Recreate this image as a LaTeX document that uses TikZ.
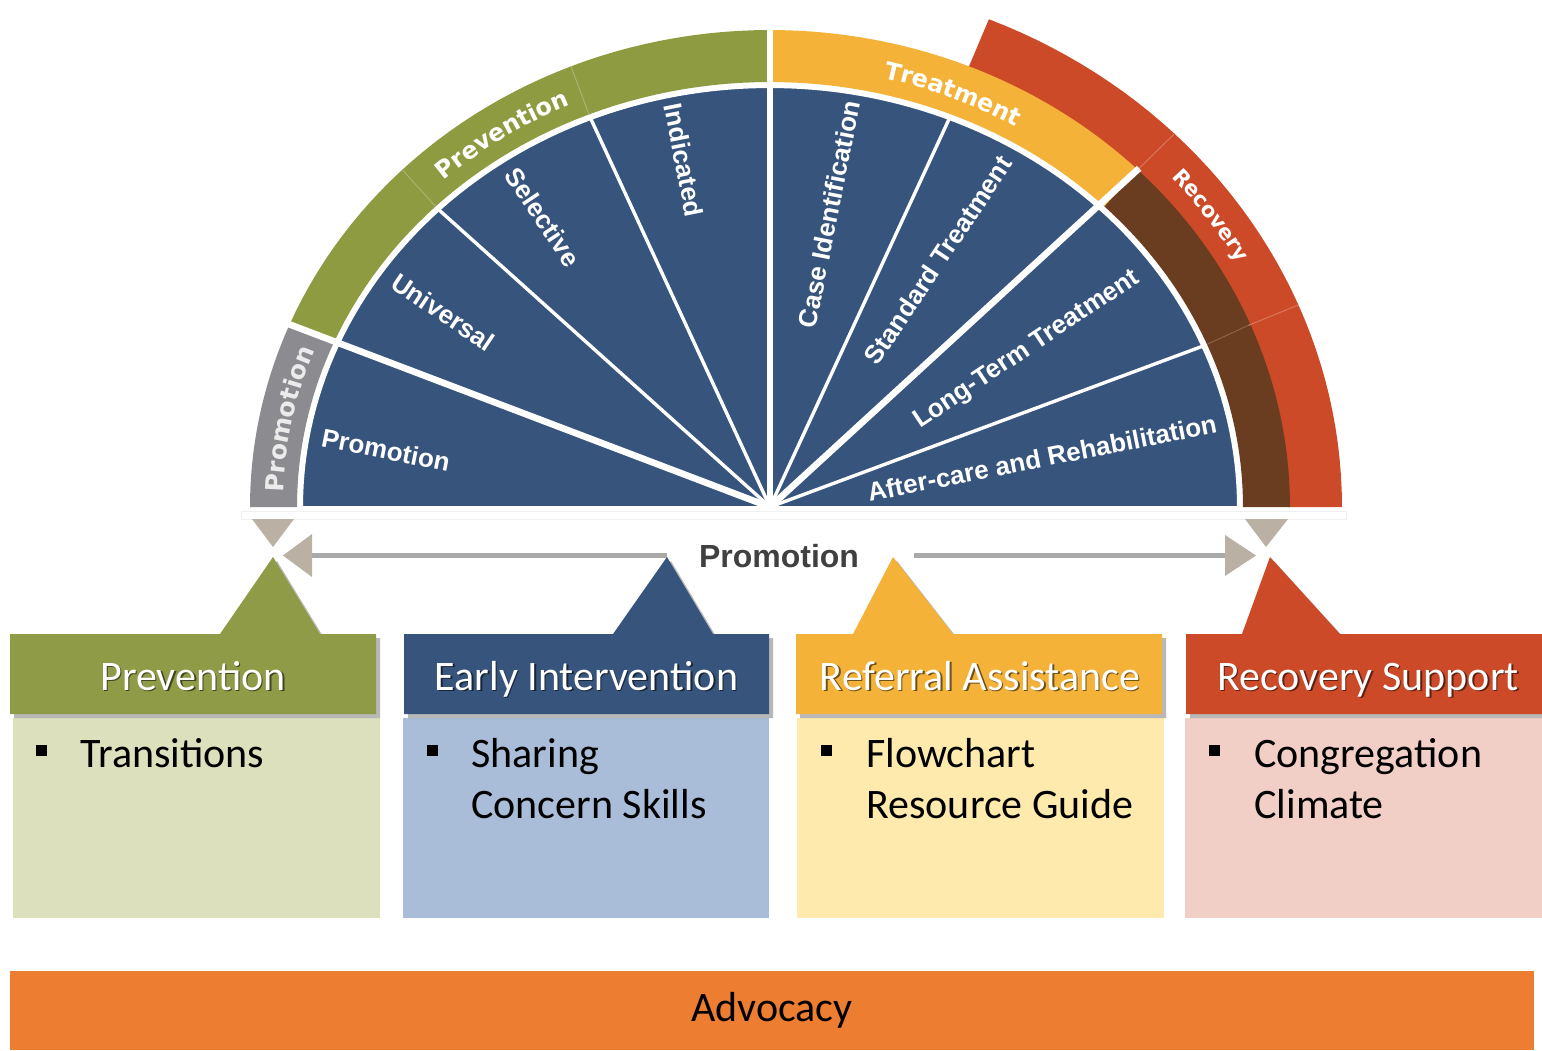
\documentclass[tikz,border=0pt]{standalone}
\usepackage{fontspec}
\setmainfont{Carlito}
\newfontfamily\arialf{Liberation Sans}
\newfontfamily\verdf{DejaVu Sans}
\usetikzlibrary{decorations.text}
\definecolor{blueC}{RGB}{54,84,124}
\definecolor{greenC}{RGB}{142,155,64}
\definecolor{hGreen}{RGB}{143,155,70}
\definecolor{greyC}{RGB}{140,139,143}
\definecolor{yellowC}{RGB}{244,178,57}
\definecolor{redC}{RGB}{204,74,40}
\definecolor{brownC}{RGB}{107,61,32}
\definecolor{tanC}{RGB}{186,176,163}
\definecolor{shaftC}{RGB}{170,170,170}
\definecolor{lgreen}{RGB}{221,224,189}
\definecolor{lblue}{RGB}{170,189,216}
\definecolor{lyellow}{RGB}{255,234,173}
\definecolor{lpink}{RGB}{242,207,198}
\definecolor{advC}{RGB}{237,125,49}
\definecolor{promoC}{RGB}{64,64,64}
\newcommand\bandfnt{\verdf\bfseries\fontsize{12}{14}\selectfont}
\newcommand\recfnt{\verdf\bfseries\fontsize{10.5}{12}\selectfont}
\newcommand\promfnt{\verdf\bfseries\fontsize{12.5}{14}\selectfont}
% ring sector: color, t1, t2, inner rx, inner ry, outer rx, outer ry
\newcommand{\ringsec}[7]{\fill[#1] plot[domain=#2:#3,samples=40] ({770+#6*cos(\x)},{507-#7*sin(\x)}) -- plot[domain=#3:#2,samples=40] ({770+#4*cos(\x)},{507-#5*sin(\x)}) -- cycle;}
% spoke: angle, rx, ry, width, color
\newcommand{\spoke}[5]{\draw[#5, line width=#4] (770,507) -- ({770+#2*cos(#1)},{507-#3*sin(#1)});}
% band divider: angle, rx1, ry1, rx2, ry2, color
\newcommand{\bandline}[6]{\draw[#6, line width=0.5pt] ({770+#2*cos(#1)},{507-#3*sin(#1)}) -- ({770+#4*cos(#1)},{507-#5*sin(#1)});}
% callout header: color, left, right, base-left, apex x, base-right
\newcommand{\callout}[6]{%
 \fill[black,opacity=.28] ({#2+4},638) -- ({#4+4},638) -- ({#5+4},561) -- ({#6+4},638) -- ({#3+4},638) -- ({#3+4},718) -- ({#2+4},718) -- cycle;
 \fill[#1] (#2,634) -- (#4,634) -- (#5,557) -- (#6,634) -- (#3,634) -- (#3,714) -- (#2,714) -- cycle;}
\begin{document}
\begin{tikzpicture}[x=0.5pt,y=-0.5pt,
  slicelbl/.style={text=white, font=\arialf\bfseries\fontsize{13}{15}\selectfont, inner sep=0pt},
  hdr/.style={text=white, font=\fontsize{21}{25}\selectfont, inner sep=0pt, anchor=base},
  hdrsh/.style={text=black, opacity=.55, font=\fontsize{21}{25}\selectfont, inner sep=0pt, anchor=base},
  bodytxt/.style={text=black, font=\fontsize{21}{25}\selectfont, inner sep=0pt, anchor=base west},
  bullet/.style={fill=black},
  tri/.style={fill=tanC},
  shaft/.style={draw=shaftC, line width=2.5pt}]
\path[use as bounding box] (0,0) rectangle (1542,1050);

% ---------- wheel ----------
\ringsec{redC}{0}{67.5}{518}{475}{572}{528}
\ringsec{greyC}{157.5}{180}{473}{425}{520}{477}
\ringsec{greenC}{90}{157.5}{473}{425}{520}{477}
\ringsec{yellowC}{45}{90}{473}{425}{520}{477}
\ringsec{brownC}{0}{45}{473}{425}{520}{477}
\bandline{112.5}{473}{425}{520}{477}{greenC!75!white}
\bandline{135}{473}{425}{520}{477}{greenC!75!white}
\bandline{22.5}{473}{425}{520}{477}{brownC!80!white}
\bandline{45}{518}{475}{572}{528}{redC!75!white}
\bandline{22.5}{518}{475}{572}{528}{redC!75!white}
\fill[blueC, draw=white, line width=1pt] plot[domain=0:180,samples=120] ({770+468*cos(\x)},{507-420*sin(\x)}) -- cycle;
\spoke{22.5}{468}{420}{1.7pt}{white}
\spoke{67.5}{468}{420}{1.7pt}{white}
\spoke{112.5}{468}{420}{1.7pt}{white}
\spoke{135}{468}{420}{1.7pt}{white}
\spoke{90}{522}{479}{2.6pt}{white}
\spoke{157.5}{522}{479}{3.3pt}{white}
\spoke{45}{522}{479}{3.3pt}{white}
\draw[black!6, line width=0.5pt] (241,511) rectangle (1346,519);

% band labels
\path[decorate, decoration={text along path, text={|\promfnt|Promotion}, text align=center, text color=white!92!black}]
  plot[domain=205:133,samples=80] ({770+487*cos(\x)},{507-442*sin(\x)});
\path[decorate, decoration={text along path, text={|\bandfnt|Prevention}, text align=center, text color=white}]
  plot[domain=160:88,samples=80] ({770+486*cos(\x)},{507-441*sin(\x)});
\path[decorate, decoration={text along path, text={|\bandfnt|Treatment}, text align=center, text color=white}]
  plot[domain=102:33,samples=80] ({770+486*cos(\x)},{507-441*sin(\x)});
\path[decorate, decoration={text along path, text={|\recfnt|Recovery}, text align=center, text color=white}]
  plot[domain=68:2,samples=80] ({770+538*cos(\x)},{507-495*sin(\x)});

% slice labels
\node[slicelbl, rotate=-11.25] (sPro) at (386,450) {Promotion};
\node[slicelbl, rotate=-33.75] (sUni) at (443,312) {Universal};
\node[slicelbl, rotate=-56.25] (sSel) at (543,217) {Selective};
\node[slicelbl, rotate=-78.75] (sInd) at (684,160) {Indicated};
\node[slicelbl, rotate=78.75] (sCase) at (829,214) {Case Identification};
\node[slicelbl, rotate=56.25] (sStd) at (938,260) {Standard Treatment};
\node[slicelbl, rotate=33.75] (sLong) at (1027,350) {Long-Term Treatment};
\node[slicelbl, rotate=11.25] (sAft) at (1042,458) {After-care and Rehabilitation};

% ---------- promotion arrow ----------
\fill[tri] (252,519) -- (294,519) -- (273,547) -- cycle;
\fill[tri] (1245,519) -- (1288,519) -- (1266,547) -- cycle;
\node[text=promoC, font=\arialf\bfseries\fontsize{16}{18}\selectfont, inner sep=0pt, anchor=base] (promo) at (779,567) {Promotion};
\coordinate (lhead) at (312,555.5);
\coordinate (lend) at (667,555.5);
\coordinate (rstart) at (914,555.5);
\coordinate (rhead) at (1225,555.5);
\draw[shaft] (lhead) -- (lend);
\draw[shaft] (rstart) -- (rhead);
\fill[tri] (312,534) -- (312,577) -- (283,555.5) -- cycle;
\fill[tri] (1225,535) -- (1225,576) -- (1256,555.5) -- cycle;

% ---------- boxes ----------
\fill[lgreen] (13,718) rectangle (380,918);
\fill[lblue] (403,718) rectangle (769,918);
\fill[lyellow] (797,718) rectangle (1164,918);
\fill[lpink] (1185,718) rectangle (1542,918);
\callout{hGreen}{10}{376}{220}{273}{320}
\callout{blueC}{404}{769}{613}{667}{713}
\callout{yellowC}{796}{1162}{853}{893}{953}
\callout{redC}{1186}{1542}{1242}{1270}{1340}

\node[hdrsh] at (194.5,691.5) {Prevention};
\node[hdr] (hPrev) at (193,690) {Prevention};
\node[hdrsh] at (588,691.5) {Early Intervention};
\node[hdr] (hEarly) at (586.5,690) {Early Intervention};
\node[hdrsh] at (981.5,691.5) {Referral Assistance};
\node[hdr] (hRef) at (980,690) {Referral Assistance};
\node[hdrsh] at (1369.5,691.5) {Recovery Support};
\node[hdr] (hRec) at (1368,690) {Recovery Support};

\fill[bullet] (36,745) rectangle (47,756);
\node[bodytxt] (bPrev) at (80,767) {Transitions};
\fill[bullet] (427,745) rectangle (438,756);
\node[bodytxt] (bEarly1) at (471,767) {Sharing};
\node[bodytxt] (bEarly2) at (471,818) {Concern Skills};
\fill[bullet] (821,745) rectangle (832,756);
\node[bodytxt] (bRef1) at (866,767) {Flowchart};
\node[bodytxt] (bRef2) at (866,818) {Resource Guide};
\fill[bullet] (1209,745) rectangle (1220,756);
\node[bodytxt] (bRec1) at (1254,767) {Congregation};
\node[bodytxt] (bRec2) at (1254,818) {Climate};

% ---------- advocacy ----------
\fill[advC] (10,971) rectangle (1534,1050);
\node[text=black, font=\fontsize{21}{25}\selectfont, inner sep=0pt, anchor=base] (adv) at (772,1021) {Advocacy};
\end{tikzpicture}
\end{document}
